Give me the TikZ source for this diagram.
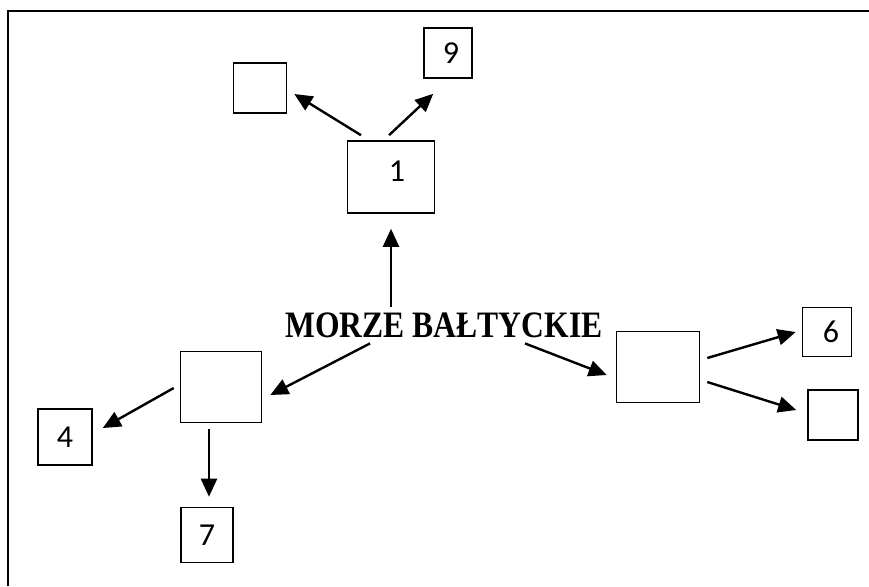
\documentclass[tikz,border=0pt]{standalone}
\usepackage{graphicx}
\usepackage{fontspec}
\setmainfont{Liberation Serif}
\newfontfamily\digitfont{Carlito}
\usetikzlibrary{arrows.meta}

\tikzset{
  box/.style={draw, line width=0.8pt, inner sep=0pt, font=\digitfont\fontsize{16}{16}\selectfont},
  arr/.style={line width=1.2pt, -{Triangle[length=9pt,width=8pt]}},
}

\begin{document}
\begin{tikzpicture}[x=0.5pt,y=-0.5pt]
  \useasboundingbox (0,0) rectangle (869,586);
  \draw[line width=1.1pt] (8,586) -- (8,11) -- (869,11);

  % sea in the middle
  \node[inner sep=3pt, font=\bfseries\fontsize{15.8}{16}\selectfont] (sea) at (444,325.5) {\scalebox{1}[1.18]{MORZE BAŁTYCKIE}};

  % boxes
  \node[box, minimum width=43.5pt, minimum height=36pt] (b1) at (391,177) {\hspace{6pt}1\rule[-6pt]{0pt}{6pt}};
  \node[box, minimum width=26.5pt, minimum height=25pt] (tl) at (260,88) {};
  \node[box, minimum width=24pt, minimum height=25pt] (b9) at (448,53) {\hspace{3pt}9};
  \node[box, minimum width=41.5pt, minimum height=35.5pt] (rb) at (658,367) {};
  \node[box, minimum width=24.5pt, minimum height=24.5pt] (b6) at (827,332) {\hspace{4pt}6};
  \node[box, minimum width=25pt, minimum height=25pt] (br) at (833,415) {};
  \node[box, minimum width=40.5pt, minimum height=35.5pt] (lb) at (221,387) {};
  \node[box, minimum width=27pt, minimum height=28pt] (b4) at (65,437) {4};
  \node[box, minimum width=26pt, minimum height=27.5pt] (b7) at (207,535) {7};

  % arrows
  \draw[arr, shorten >=7.5pt] (sea.north -| b1) -- (b1.south);
  \draw[arr] ([shift={(-30,-5)}]b1.north) -- ([shift={(7,6)}]tl.east);
  \draw[arr] ([shift={(-2,-5)}]b1.north) -- ([shift={(10,15)}]b9.south west);
  \draw[arr] ([shift={(-74,-1)}]sea.south) -- ([shift={(8,8)}]lb.east);
  \draw[arr] ([shift={(81,-1)}]sea.south) -- ([shift={(-9,8)}]rb.west);
  \draw[arr] ([shift={(7,-9)}]rb.east) -- ([shift={(-6,0)}]b6.west);
  \draw[arr] ([shift={(7,15)}]rb.east) -- ([shift={(-11,-5)}]br.west);
  \draw[arr] ([shift={(-6,1)}]lb.west) -- ([shift={(10,-9)}]b4.east);
  \draw[arr] ([shift={(-12,6)}]lb.south) -- ([shift={(2,-10)}]b7.north);
\end{tikzpicture}
\end{document}
